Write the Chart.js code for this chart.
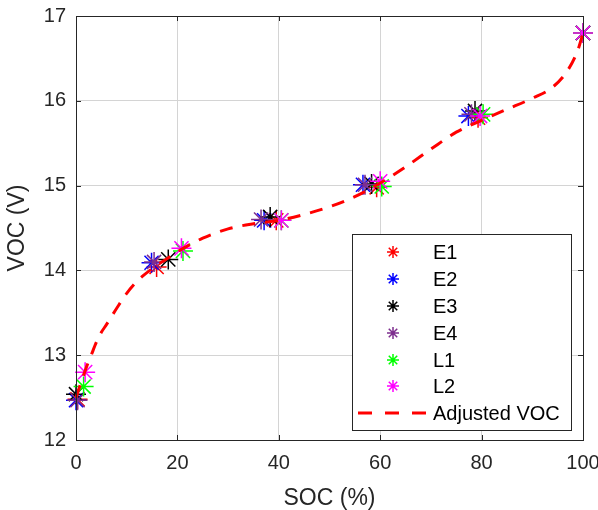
<!DOCTYPE html>
<html>
<head>
<meta charset="utf-8">
<script src="https://cdn.jsdelivr.net/npm/chart.js@4"></script>
<style>
    body { margin: 0; background: #fff; }
    #wrap { width: 598px; height: 510px; }
</style>
</head>
<body>
<div id="wrap"><canvas id="vocChart"></canvas></div>
<script>
// 측정 데이터 (SOC %, VOC V)
const socE1 = [0.3, 15.9, 39.5, 59.3, 79.3, 100];
const vocE1 = [12.48, 14.04, 14.59, 14.98, 15.80, 16.80];
const socE2 = [0.0, 14.9, 37.1, 56.6, 77.4, 100];
const vocE2 = [12.47, 14.09, 14.59, 15.01, 15.82, 16.80];
const socE3 = [0.0, 18.2, 38.3, 58.3, 78.7, 100];
const vocE3 = [12.54, 14.13, 14.63, 15.02, 15.88, 16.80];
const socE4 = [0.3, 15.4, 36.5, 57.0, 78.0, 100];
const vocE4 = [12.47, 14.10, 14.60, 15.01, 15.84, 16.80];
const socL1 = [1.5, 21.1, 40.5, 60.3, 80.3, 100];
const vocL1 = [12.63, 14.23, 14.59, 14.99, 15.84, 16.80];
const socL2 = [1.8, 20.8, 40.5, 60.0, 79.7, 100];
const vocL2 = [12.80, 14.26, 14.59, 15.05, 15.82, 16.80];

// 보정 VOC 곡선
const socFit = [0, 1, 2, 3, 4, 5, 6, 8, 10, 12, 15, 18, 20, 25, 30, 35, 40, 45, 50, 55, 60, 65, 70, 75, 80, 85, 90, 94, 97, 99, 100];
const vocFit = [12.5, 12.68, 12.85, 13.0, 13.15, 13.27, 13.36, 13.55, 13.73, 13.87, 14.02, 14.14, 14.22, 14.38, 14.49, 14.55, 14.59, 14.66, 14.75, 14.87, 15.03, 15.22, 15.43, 15.63, 15.77, 15.9, 16.03, 16.16, 16.36, 16.6, 16.8];

const xTicks = [0, 20, 40, 60, 80, 100];
const yTicks = [12, 13, 14, 15, 16, 17];

const seriesNames = ['E1', 'E2', 'E3', 'E4', 'L1', 'L2'];
const seriesColors = ['#ff0000', '#0000ff', '#000000', '#7e2f8e', '#00ff00', '#ff00ff'];
const seriesSoc = [socE1, socE2, socE3, socE4, socL1, socL2];
const seriesVoc = [vocE1, vocE2, vocE3, vocE4, vocL1, vocL2];

const AXIS_COLOR = '#262626';
const FONT = '"Liberation Sans", Arial, sans-serif';
const DASH = [13, 10];

function toPoints(xs, ys) {
    return xs.map((x, i) => ({ x: x, y: ys[i] }));
}

const datasets = seriesNames.map((name, i) => ({
    label: name,
    data: toPoints(seriesSoc[i], seriesVoc[i]),
    showLine: false,
    clip: false,
    pointStyle: 'star',
    pointRadius: 10,
    pointBorderWidth: 1.5,
    borderColor: seriesColors[i],
    backgroundColor: seriesColors[i],
    order: seriesNames.length - i
}));

datasets.push({
    label: 'Adjusted VOC',
    data: toPoints(socFit, vocFit),
    showLine: true,
    clip: false,
    borderColor: '#ff0000',
    borderWidth: 3,
    borderDash: DASH,
    pointRadius: 0,
    cubicInterpolationMode: 'monotone',
    order: 0
});

// 축 테두리 + 안쪽 눈금
const framePlugin = {
    id: 'frame',
    afterDatasetsDraw(chart) {
        const { ctx, chartArea: a, scales } = chart;
        ctx.save();
        ctx.strokeStyle = AXIS_COLOR;
        ctx.lineWidth = 1;
        ctx.beginPath();
        xTicks.forEach(v => {
            const px = Math.round(scales.x.getPixelForValue(v)) + 0.5;
            ctx.moveTo(px, a.bottom); ctx.lineTo(px, a.bottom - 5);
            ctx.moveTo(px, a.top); ctx.lineTo(px, a.top + 5);
        });
        yTicks.forEach(v => {
            const py = Math.round(scales.y.getPixelForValue(v)) + 0.5;
            ctx.moveTo(a.left, py); ctx.lineTo(a.left + 5, py);
            ctx.moveTo(a.right, py); ctx.lineTo(a.right - 5, py);
        });
        ctx.stroke();
        ctx.strokeRect(Math.round(a.left) + 0.5, Math.round(a.top) + 0.5,
            Math.round(a.right - a.left), Math.round(a.bottom - a.top));
        ctx.restore();
    }
};

// 범례 (플롯 내부 오른쪽 아래)
function drawStar(ctx, x, y, r) {
    const d = r * Math.SQRT1_2;
    ctx.beginPath();
    ctx.moveTo(x - r, y); ctx.lineTo(x + r, y);
    ctx.moveTo(x, y - r); ctx.lineTo(x, y + r);
    ctx.moveTo(x - d, y - d); ctx.lineTo(x + d, y + d);
    ctx.moveTo(x - d, y + d); ctx.lineTo(x + d, y - d);
    ctx.stroke();
}

const legendPlugin = {
    id: 'insideLegend',
    afterDraw(chart) {
        const ctx = chart.ctx;
        const box = { left: 352, top: 234, right: 571, bottom: 430 };
        ctx.save();
        ctx.fillStyle = '#ffffff';
        ctx.fillRect(box.left, box.top, box.right - box.left, box.bottom - box.top);
        ctx.strokeStyle = AXIS_COLOR;
        ctx.lineWidth = 1;
        ctx.strokeRect(box.left + 0.5, box.top + 0.5, box.right - box.left, box.bottom - box.top);

        ctx.font = '20px ' + FONT;
        ctx.textBaseline = 'middle';
        ctx.fillStyle = '#000000';
        const rowY = [252, 279, 306, 333, 360, 386, 413];
        seriesNames.forEach((name, i) => {
            ctx.strokeStyle = seriesColors[i];
            ctx.lineWidth = 1.5;
            drawStar(ctx, 393, rowY[i], 6);
            ctx.fillText(name, 433, rowY[i] + 1);
        });
        ctx.strokeStyle = '#ff0000';
        ctx.lineWidth = 3;
        ctx.setLineDash([14, 13]);
        ctx.beginPath();
        ctx.moveTo(358, rowY[6]);
        ctx.lineTo(427, rowY[6]);
        ctx.stroke();
        ctx.setLineDash([]);
        ctx.fillText('Adjusted VOC', 433, rowY[6] + 1);
        ctx.restore();
    }
};

new Chart(document.getElementById('vocChart'), {
    type: 'scatter',
    data: { datasets: datasets },
    plugins: [framePlugin, legendPlugin],
    options: {
        responsive: true,
        maintainAspectRatio: false,
        animation: false,
        events: [],
        layout: { padding: { left: 0, right: 15, top: 16, bottom: 0 } },
        plugins: {
            legend: { display: false },
            tooltip: { enabled: false }
        },
        scales: {
            x: {
                type: 'linear',
                min: 0,
                max: 100,
                afterBuildTicks: scale => { scale.ticks = xTicks.map(v => ({ value: v })); },
                afterFit: scale => {
                    scale.height = 70;
                    scale.paddingLeft = 0;
                    scale.paddingRight = 0;
                },
                ticks: { color: AXIS_COLOR, font: { size: 20, family: FONT }, padding: 11, maxRotation: 0 },
                grid: { color: '#d4d4d4', drawTicks: false },
                border: { display: false },
                title: {
                    display: true,
                    text: 'SOC (%)',
                    color: AXIS_COLOR,
                    font: { size: 23, family: FONT, lineHeight: 1 },
                    padding: { top: 0, bottom: 0 }
                }
            },
            y: {
                type: 'linear',
                min: 12,
                max: 17,
                afterBuildTicks: scale => { scale.ticks = yTicks.map(v => ({ value: v })); },
                afterFit: scale => {
                    scale.width = 76;
                    scale.paddingTop = 0;
                    scale.paddingBottom = 0;
                },
                ticks: { color: AXIS_COLOR, font: { size: 20, family: FONT }, padding: 10 },
                grid: { color: '#d4d4d4', drawTicks: false },
                border: { display: false },
                title: {
                    display: true,
                    text: 'VOC (V)',
                    color: AXIS_COLOR,
                    font: { size: 23, family: FONT },
                    padding: { top: 4, bottom: 0 }
                }
            }
        }
    }
});
</script>
</body>
</html>
